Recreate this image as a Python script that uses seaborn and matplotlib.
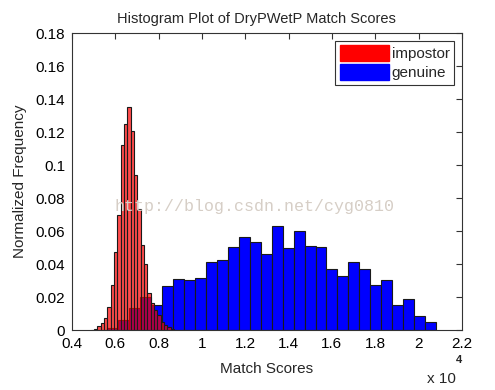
import numpy as np
import pandas as pd
import matplotlib
matplotlib.use("Agg")
import matplotlib.pyplot as plt
import seaborn as sns
from matplotlib.patches import Patch

# normalized histogram heights (x in units of 1e4)
genuine_heights = [0.001, 0.0058, 0.0133, 0.020, 0.0152, 0.0269, 0.0307, 0.0303,
                   0.0318, 0.041, 0.0422, 0.0501, 0.0564, 0.0531, 0.0459, 0.0628,
                   0.0495, 0.0598, 0.0511, 0.0501, 0.0372, 0.0325, 0.0413, 0.0369,
                   0.0274, 0.0303, 0.0152, 0.019, 0.0085, 0.0048]
genuine_range = (0.561, 2.082)

impostor_heights = [0.0003, 0.0006, 0.0026, 0.0044, 0.0071, 0.0141, 0.0273, 0.0475,
                    0.0697, 0.1121, 0.1248, 0.1353, 0.1206, 0.0939, 0.0731, 0.0515,
                    0.040, 0.0224, 0.0164, 0.0121, 0.0091, 0.005, 0.003, 0.0016, 0.0008]
impostor_range = (0.486, 0.8705)

x_ticks = [0.4, 0.6, 0.8, 1.0, 1.2, 1.4, 1.6, 1.8, 2.0, 2.2]
x_labels = ["0.4", "0.6", "0.8", "1", "1.2", "1.4", "1.6", "1.8", "2", "2.2"]
y_ticks = [0, 0.02, 0.04, 0.06, 0.08, 0.1, 0.12, 0.14, 0.16, 0.18]
y_labels = ["0", "0.02", "0.04", "0.06", "0.08", "0.1", "0.12", "0.14", "0.16", "0.18"]

sns.set_style("white")
plt.rcParams['font.family'] = ['Liberation Sans', 'DejaVu Sans']

fig = plt.figure(figsize=(4.95, 3.9), dpi=100)
ax = fig.add_axes([0.1455, 0.1538, 0.7875, 0.7612])

g_edges = np.linspace(genuine_range[0], genuine_range[1], len(genuine_heights) + 1)
i_edges = np.linspace(impostor_range[0], impostor_range[1], len(impostor_heights) + 1)
gen = pd.DataFrame({"score": (g_edges[:-1] + g_edges[1:]) / 2, "freq": genuine_heights})
imp = pd.DataFrame({"score": (i_edges[:-1] + i_edges[1:]) / 2, "freq": impostor_heights})

sns.histplot(data=gen, x="score", weights="freq", bins=list(g_edges), stat="count",
             color="#0000ff", alpha=1, edgecolor="#1a1a1a", linewidth=0.8, ax=ax)
sns.histplot(data=imp, x="score", weights="freq", bins=list(i_edges), stat="count",
             color="#ff0000", alpha=0.7, edgecolor="#1a1a1a", linewidth=0.8, ax=ax)

ax.set_xlim(0.4, 2.2)
ax.set_ylim(0, 0.18)
ax.set_xticks(x_ticks)
ax.set_xticklabels(x_labels)
ax.set_yticks(y_ticks)
ax.set_yticklabels(y_labels)
ax.tick_params(direction="in", length=4, width=0.8, top=True, right=True,
               labelsize=11, colors="#333333", labelcolor="black", pad=5)
for s in ax.spines.values():
    s.set_color("#333333")
    s.set_linewidth(0.8)

ax.set_title("Histogram Plot of DryPWetP Match Scores", fontsize=10.5, pad=7, x=0.472)
ax.set_xlabel("Match Scores", fontsize=11, labelpad=8)
ax.set_ylabel("Normalized Frequency", fontsize=11, labelpad=6)
# MATLAB style exponent under the axis
fig.text(0.862, 0.018, "x 10", fontsize=11)
fig.text(0.921, 0.069, "4", fontsize=8, fontweight="bold")

handles = [Patch(facecolor="#ff0000", edgecolor="#ff0000"),
           Patch(facecolor="#0000ff", edgecolor="#0000ff")]
leg = ax.legend(handles, ["impostor", "genuine"], loc="upper right", fontsize=11,
                fancybox=False, framealpha=1, edgecolor="#333333",
                handlelength=3.2, handleheight=1.2, handletextpad=0.2,
                borderpad=0.3, labelspacing=0.2, borderaxespad=0.5)
leg.get_frame().set_linewidth(0.8)

# blog watermark
fig.text(0.515, 0.47, "http://blog.csdn.net/cyg0810", fontsize=12,
         family="Liberation Mono", color="#d6cec6", ha="center", va="center")

fig.savefig("out.png", dpi=100)
